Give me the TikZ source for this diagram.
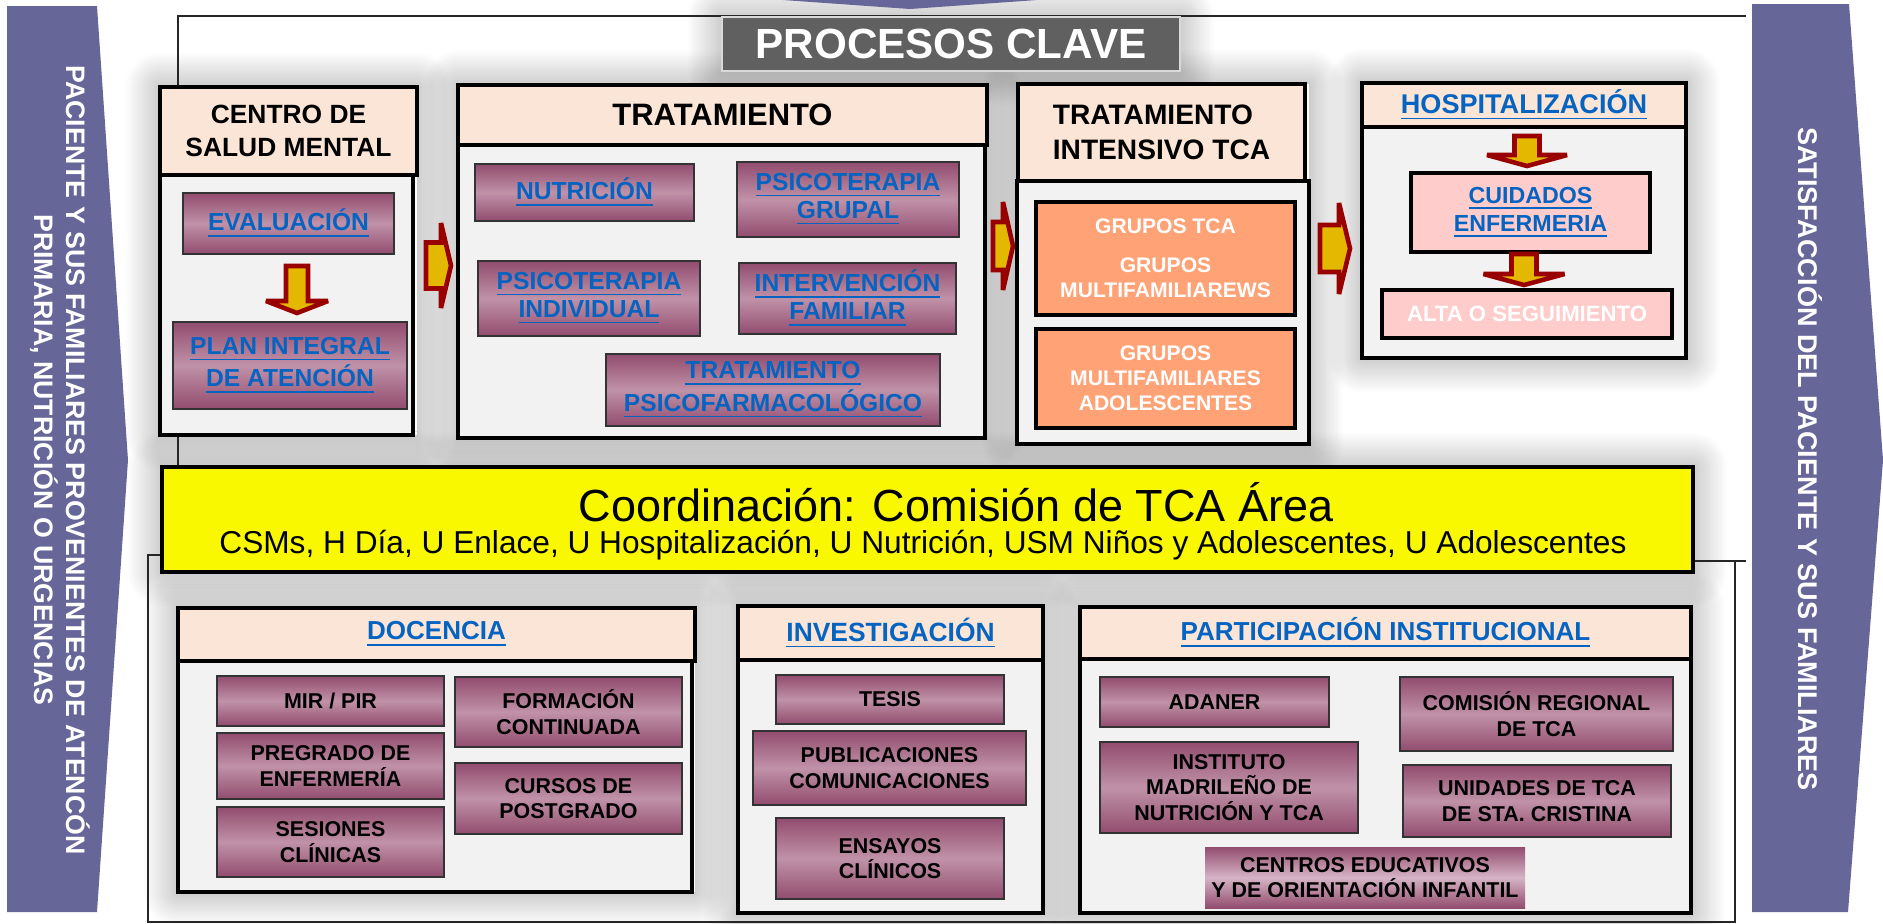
\documentclass[tikz,border=0pt]{standalone}
\usepackage{fontspec}
\setmainfont{Liberation Sans}
\usepackage{tikz}
\usetikzlibrary{positioning,shadows.blur,backgrounds,fit,calc}

\definecolor{bandpurple}{RGB}{102,102,153}
\definecolor{peach}{RGB}{251,229,214}
\definecolor{bodygray}{RGB}{242,242,242}
\definecolor{mauvedark}{RGB}{146,76,110}
\definecolor{mauvelight}{RGB}{192,146,168}
\definecolor{mauvepale}{RGB}{214,180,198}
\definecolor{linkblue}{RGB}{5,99,193}
\definecolor{tcaorange}{RGB}{255,162,117}
\definecolor{nursepink}{RGB}{255,204,204}
\definecolor{coordyellow}{RGB}{249,248,0}
\definecolor{titlegray}{RGB}{96,96,96}
\definecolor{arrowred}{RGB}{153,0,0}
\definecolor{arrowgold}{RGB}{228,184,0}
\newcommand{\lnk}[1]{\underline{#1}}
\newcommand{\fsz}[2]{\fontsize{#1}{#2}\selectfont}

\begin{document}
\begin{tikzpicture}[
  x=0.01cm, y=-0.01cm,
  every node/.style={inner sep=0pt, outer sep=0pt, align=center, font=\bfseries},
  sz/.style 2 args={minimum width=#1*0.01cm, minimum height=#2*0.01cm},
  head/.style ={draw, line width=1.4pt, fill=peach},
  body/.style ={draw, line width=1.4pt, fill=bodygray},
  item/.style ={draw=black!80, line width=0.45pt, top color=mauvedark,
                bottom color=mauvedark, middle color=mauvelight,
                font=\bfseries\fsz{6.1}{7.2}},
  link/.style ={text=linkblue, font=\bfseries\fsz{7}{8}},
  tca/.style  ={draw, line width=1.2pt, fill=tcaorange, text=white,
                font=\bfseries\fsz{6}{7.1}},
  nurse/.style={draw, line width=1.2pt, fill=nursepink},
  band/.style ={fill=bandpurple},
  bandtxt/.style={text=white, rotate=-90, font=\bfseries\fsz{7.6}{9.1}},
  frame/.style={line width=0.5pt, black!85},
  halo/.style ={fill=white, blur shadow={shadow xshift=0pt, shadow yshift=0pt,
                shadow blur radius=10pt, shadow blur steps=24, shadow opacity=40}},
  flowline/.style={draw=arrowred, fill=arrowgold, line width=1.3pt,
                   line join=miter, miter limit=2},
  pics/flowright/.style n args={4}{code={
    \filldraw[flowline] (0,-#2) -- (#1-#4,-#2) -- (#1-#4,-#3) -- (#1,0)
      -- (#1-#4,#3) -- (#1-#4,#2) -- (0,#2) -- cycle;}},
  pics/flowdown/.style n args={4}{code={
    \filldraw[flowline] (-#2,0) -- (-#2,#1-#4) -- (-#3,#1-#4) -- (0,#1)
      -- (#3,#1-#4) -- (#2,#1-#4) -- (#2,0) -- cycle;}}
]
\useasboundingbox (0,0) rectangle (1883,923);

\draw[frame] (1746,16) -- (178,16) -- (178,467);
\draw[frame] (162,555) -- (148,555) -- (148,922) -- (1735,922) -- (1735,561);
\draw[frame] (1693,561) -- (1746,561);

\fill[band] (7,6) -- (97,6) -- (128,460) -- (97,912) -- (7,912) -- cycle;
\fill[band] (1752,4) -- (1849,4) -- (1883,460) -- (1848,912) -- (1752,912) -- cycle;
\fill[band] (783,0) -- (1037,0) -- (910,9) -- cycle;

\node[bandtxt] (entrada) at (60,460)
     {PACIENTE Y SUS FAMILIARES PROVENIENTES DE ATENCÓN\\
      PRIMARIA, NUTRICIÓN O URGENCIAS};
\node[bandtxt, font=\bfseries\fsz{7.7}{9}] (salida) at (1810,459)
     {SATISFACCIÓN DEL PACIENTE Y SUS FAMILIARES};

\node[fill=titlegray, draw=black!15, line width=0.6pt, text=white,
      font=\bfseries\fsz{12}{14}, sz={458}{54}] (procesos) at (951,44)
     {PROCESOS CLAVE};

\node[head, sz={257}{88}, font=\bfseries\fsz{7.5}{9.4}] (csmhead) at (288.5,131)
     {CENTRO DE\\SALUD MENTAL};
\node[body, sz={253}{260}] (csmbody) at (286.5,305) {};
\node[item, link, sz={211}{61}] (evalua) at (288.5,223.5) {\lnk{EVALUACIÓN}};
\node[item, link, sz={234}{87}] (plan) at (290,365.5)
     {\lnk{PLAN INTEGRAL}\\\lnk{DE ATENCIÓN}};
\pic (bajacsm) at (297,266) {flowdown={47}{11}{31}{12}};

\node[head, sz={529}{60}, font=\bfseries\fsz{8.8}{10}] (trathead) at (722.5,115)
     {TRATAMIENTO};
\node[body, sz={527}{293}] (tratbody) at (721.5,291.5) {};
\node[item, link, sz={219}{57}] (nutri) at (584.5,192.5) {\lnk{NUTRICIÓN}};
\node[item, link, sz={222}{75}] (psgrupal) at (848,199.5)
     {\lnk{PSICOTERAPIA}\\\lnk{GRUPAL}};
\node[item, link, sz={222}{75}] (psindiv) at (589,298.5)
     {\lnk{PSICOTERAPIA}\\\lnk{INDIVIDUAL}};
\node[item, link, sz={217}{71}] (interfam) at (847.5,298.5)
     {\lnk{INTERVENCIÓN}\\\lnk{FAMILIAR}};
\node[item, link, sz={334}{72}] (psicofarm) at (773,390)
     {\lnk{TRATAMIENTO}\\\lnk{PSICOFARMACOLÓGICO}};

\node[head, sz={287}{97}, align=left, font=\bfseries\fsz{8}{10}] (tithead) at (1161.5,132.5)
     {TRATAMIENTO\\INTENSIVO TCA};
\node[body, sz={292}{263}] (titbody) at (1163,312.5) {};
\node[tca, sz={259}{113}] (grupos) at (1165.5,258.5)
     {GRUPOS TCA\\[4pt]GRUPOS\\MULTIFAMILIAREWS};
\node[tca, sz={259}{99}] (multiado) at (1165.5,378.5)
     {GRUPOS\\MULTIFAMILIARES\\ADOLESCENTES};

\node[head, sz={324}{44}, link, font=\bfseries\fsz{7.7}{9}] (hosphead) at (1524,105)
     {\lnk{HOSPITALIZACIÓN}};
\node[body, sz={324}{231}] (hospbody) at (1524,242.5) {};
\node[nurse, link, sz={239}{79}, font=\bfseries\fsz{6.6}{8}] (cuidados) at (1530.5,212.5)
     {\lnk{CUIDADOS}\\\lnk{ENFERMERIA}};
\node[nurse, sz={290}{48}, text=white, font=\bfseries\fsz{6.3}{7.5}] (alta) at (1527,314)
     {ALTA O SEGUIMIENTO};
\pic (bajahosp) at (1527,136) {flowdown={30}{12.5}{40}{11}};
\pic (bajaalta) at (1524,254) {flowdown={31}{12.5}{40.5}{11}};

\pic (pasotrat) at (426,265.5) {flowright={25}{23}{42.5}{10}};
\pic (pasotit) at (993,246) {flowright={20}{24}{44}{10}};
\pic (pasohosp) at (1320,248.5) {flowright={30}{23.5}{45.5}{11}};

\node[draw, line width=1.4pt, fill=coordyellow, sz={1531}{105}] (coord) at (927.5,519.5) {};
\node[font=\fsz{12.8}{15}] (coordtitle) at (956,502)
     {Coordinación: Comisión de TCA Área};
\node[font=\fsz{9}{10}] (coordsub) at (923,545)
     {CSMs, H Día, U Enlace, U Hospitalización, U Nutrición, USM Niños y Adolescentes, U Adolescentes};

\node[head, sz={517}{53}, link, font=\bfseries\fsz{7.4}{9}] (dochead) at (436.5,634.5)
     {\lnk{DOCENCIA}};
\node[body, sz={514}{231}] (docbody) at (435,776.5) {};
\node[item, sz={227}{50}] (mir) at (330.5,701) {MIR / PIR};
\node[item, sz={227}{66}] (pregrado) at (330.5,766) {PREGRADO DE\\ENFERMERÍA};
\node[item, sz={227}{70}] (sesiones) at (330.5,842) {SESIONES\\CLÍNICAS};
\node[item, sz={227}{70}] (formacion) at (568.5,712) {FORMACIÓN\\CONTINUADA};
\node[item, sz={227}{71}] (cursos) at (568.5,798.5) {CURSOS DE\\POSTGRADO};

\node[head, sz={305}{54}, link, font=\bfseries\fsz{7.5}{9}] (invhead) at (890.5,633)
     {\lnk{INVESTIGACIÓN}};
\node[body, sz={305}{253}] (invbody) at (890.5,786.5) {};
\node[item, sz={228}{49}] (tesis) at (890,699.5) {TESIS};
\node[item, sz={273}{74}] (public) at (889.5,768) {PUBLICACIONES\\COMUNICACIONES};
\node[item, sz={228}{81}] (ensayos) at (890,858.5) {ENSAYOS\\CLÍNICOS};

\node[head, sz={611}{52}, link, font=\bfseries\fsz{7.4}{9}] (parthead) at (1385.5,633)
     {\lnk{PARTICIPACIÓN INSTITUCIONAL}};
\node[body, sz={611}{254}] (partbody) at (1385.5,786) {};
\node[item, sz={229}{50}] (adaner) at (1214.5,702) {ADANER};
\node[item, sz={273}{74}] (comision) at (1536.5,714) {COMISIÓN REGIONAL\\DE TCA};
\node[item, sz={258}{91}] (instituto) at (1229,787.5)
     {INSTITUTO\\MADRILEÑO DE\\NUTRICIÓN Y TCA};
\node[item, sz={268}{72}] (unidades) at (1537,801) {UNIDADES DE TCA\\DE STA. CRISTINA};
\node[item, draw=none, middle color=mauvepale, sz={320}{61}] (centros) at (1365,877.5)
     {CENTROS EDUCATIVOS\\Y DE ORIENTACIÓN INFANTIL};

\begin{scope}[on background layer]
  \node[halo, fit=(procesos)] {};
  \node[halo, fit=(csmhead)(csmbody)] {};
  \node[halo, fit=(trathead)(tratbody)] {};
  \node[halo, fit=(tithead)(titbody)] {};
  \node[halo, fit=(hosphead)(hospbody)] {};
  \node[halo, fit=(coord)] {};
  \node[halo, fit=(dochead)(docbody)] {};
  \node[halo, fit=(invhead)(invbody)] {};
  \node[halo, fit=(parthead)(partbody)] {};
\end{scope}
\end{tikzpicture}
\end{document}
